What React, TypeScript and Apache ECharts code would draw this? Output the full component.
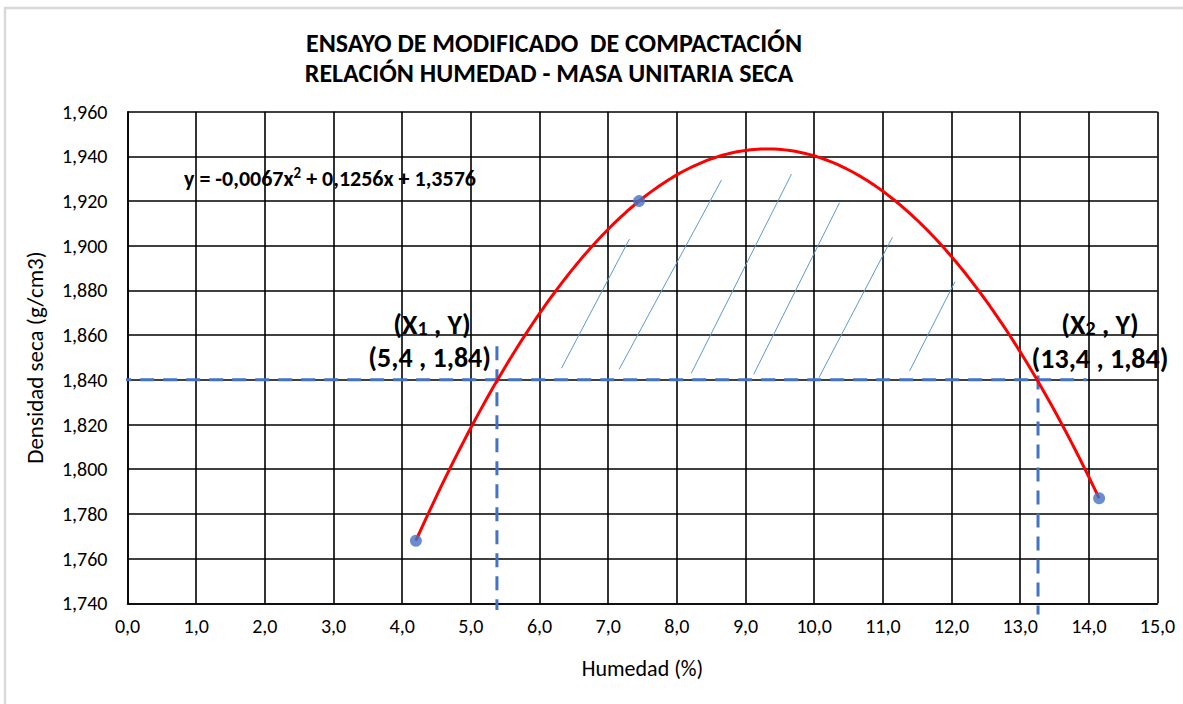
import React, { useEffect, useRef } from "react";
import * as echarts from "echarts";

// ---- Data ----
const humedad = [4.2, 7.45, 14.15];
const densidad = [1.768, 1.92, 1.787];

const titleLines = [
  "ENSAYO DE MODIFICADO  DE COMPACTACIÓN",
  "RELACIÓN HUMEDAD - MASA UNITARIA SECA",
];
const equationParts = ["y = -0,0067x", "2", " + 0,1256x + 1,3576"];
const xAxisName = "Humedad (%)";
const yAxisName = "Densidad seca (g/cm3)";

const refY = 1.84;
const refX1 = 5.38;
const refX2 = 13.26;
const hRefLine = [
  [-0.15, refY],
  [13.97, refY],
];
const vRefLine1 = [
  [refX1, 1.855],
  [refX1, 1.737],
];
const vRefLine2 = [
  [refX2, 1.842],
  [refX2, 1.735],
];

const hatchLines = [
  [[6.32, 1.8452], [7.31, 1.903]],
  [[7.16, 1.8447], [8.65, 1.9294]],
  [[8.21, 1.8429], [9.67, 1.9321]],
  [[9.12, 1.8425], [10.37, 1.9193]],
  [[10.07, 1.841], [11.14, 1.9038]],
  [[11.39, 1.844], [12.05, 1.8839]],
];

const FONT = "Carlito, Lato, 'Noto Sans', sans-serif";

// quadratic least-squares trendline (Excel polynomial, order 2)
function fitQuadratic(xs: number[], ys: number[]) {
  const n = xs.length;
  let s0 = n, s1 = 0, s2 = 0, s3 = 0, s4 = 0, t0 = 0, t1 = 0, t2 = 0;
  for (let i = 0; i < n; i++) {
    const x = xs[i], y = ys[i];
    s1 += x; s2 += x * x; s3 += x * x * x; s4 += x * x * x * x;
    t0 += y; t1 += x * y; t2 += x * x * y;
  }
  const M = [
    [s4, s3, s2, t2],
    [s3, s2, s1, t1],
    [s2, s1, s0, t0],
  ];
  for (let i = 0; i < 3; i++) {
    let p = i;
    for (let r = i + 1; r < 3; r++) if (Math.abs(M[r][i]) > Math.abs(M[p][i])) p = r;
    [M[i], M[p]] = [M[p], M[i]];
    for (let r = 0; r < 3; r++) {
      if (r === i) continue;
      const f = M[r][i] / M[i][i];
      for (let c = i; c < 4; c++) M[r][c] -= f * M[i][c];
    }
  }
  return [M[0][3] / M[0][0], M[1][3] / M[1][1], M[2][3] / M[2][2]];
}

export default function App() {
  const ref = useRef<HTMLDivElement>(null);

  useEffect(() => {
    if (!ref.current) return;
    const chart = echarts.init(ref.current, undefined, { renderer: "svg" });

    const [a, b, c] = fitQuadratic(humedad, densidad);
    const xMin = Math.min(...humedad);
    const xMax = Math.max(...humedad);
    const trend: number[][] = [];
    const steps = 200;
    for (let i = 0; i <= steps; i++) {
      const x = xMin + ((xMax - xMin) * i) / steps;
      trend.push([x, a * x * x + b * x + c]);
    }

    const dashStyle = { color: "#4472C4", width: 3, type: [14, 9] as any };

    const hatchSeries = hatchLines.map((seg) => ({
      type: "line",
      data: seg,
      symbol: "none",
      silent: true,
      lineStyle: { color: "#5B9BD5", width: 1 },
      z: 3,
    }));

    const labelBold = { fontFamily: FONT, fontWeight: "bold", fill: "#000" };
    const richXY = {
      a: { fontFamily: FONT, fontWeight: "bold", fontSize: 28, color: "#000", lineHeight: 30, verticalAlign: "bottom" },
      s: { fontFamily: FONT, fontWeight: "bold", fontSize: 20, color: "#000", lineHeight: 30, verticalAlign: "bottom" },
    };
    const richEq = {
      e: { fontFamily: FONT, fontWeight: "bold", fontSize: 22, color: "#000", lineHeight: 24, verticalAlign: "bottom" },
      sup: { fontFamily: FONT, fontWeight: "bold", fontSize: 15, color: "#000", lineHeight: 14, verticalAlign: "top" },
    };

    chart.setOption({
      animation: false,
      backgroundColor: "#ffffff",
      grid: { left: 127.5, top: 111.7, right: 25.5, bottom: 100.7, containLabel: false },
      xAxis: {
        type: "value",
        min: 0,
        max: 15,
        interval: 1,
        name: xAxisName,
        nameLocation: "middle",
        nameGap: 54,
        nameTextStyle: { fontFamily: FONT, fontSize: 22, color: "#000" },
        axisLine: { show: true, onZero: false, lineStyle: { color: "#000", width: 1.6 } },
        axisTick: { show: false },
        axisLabel: {
          margin: 13,
          fontFamily: FONT,
          fontSize: 20,
          color: "#000",
          formatter: (v: number) => v.toFixed(1).replace(".", ","),
        },
        splitLine: { show: true, lineStyle: { color: "#000", width: 1.6 } },
      },
      yAxis: {
        type: "value",
        min: 1.74,
        max: 1.96,
        interval: 0.02,
        name: yAxisName,
        nameLocation: "middle",
        nameRotate: 90,
        nameGap: 81,
        nameTextStyle: { fontFamily: FONT, fontSize: 23, color: "#000" },
        axisLine: { show: true, onZero: false, lineStyle: { color: "#000", width: 1.6 } },
        axisTick: { show: false },
        axisLabel: {
          margin: 20,
          fontFamily: FONT,
          fontSize: 20,
          color: "#000",
          formatter: (v: number) => v.toFixed(3).replace(".", ","),
        },
        splitLine: { show: true, lineStyle: { color: "#000", width: 1.6 } },
      },
      graphic: [
        {
          type: "rect",
          shape: { x: 5, y: 8, width: 1190, height: 710 },
          style: { fill: "none", stroke: "#d9d9d9", lineWidth: 2.5 },
          silent: true,
          z: -10,
        },
        {
          type: "text",
          x: 554,
          y: 43,
          style: { ...labelBold, text: titleLines[0], fontSize: 26, textAlign: "center", textVerticalAlign: "middle" },
        },
        {
          type: "text",
          x: 549,
          y: 73,
          style: { ...labelBold, text: titleLines[1], fontSize: 26, textAlign: "center", textVerticalAlign: "middle" },
        },
        {
          type: "text",
          x: 184,
          y: 177,
          style: {
            text: `{e|${equationParts[0]}}{sup|${equationParts[1]}}{e|${equationParts[2]}}`,
            textAlign: "left",
            textVerticalAlign: "middle",
            rich: richEq,
          },
        },
        {
          type: "text",
          x: 432,
          y: 323,
          style: { text: "{a|(X}{s|1}{a| , Y)}", textAlign: "center", textVerticalAlign: "middle", rich: richXY },
        },
        {
          type: "text",
          x: 491,
          y: 357,
          style: { ...labelBold, text: "(5,4 , 1,84)", fontSize: 28, textAlign: "right", textVerticalAlign: "middle" },
        },
        {
          type: "text",
          x: 1100,
          y: 323,
          style: { text: "{a|(X}{s|2}{a| , Y)}", textAlign: "center", textVerticalAlign: "middle", rich: richXY },
        },
        {
          type: "text",
          x: 1100,
          y: 358,
          style: { ...labelBold, text: "(13,4 , 1,84)", fontSize: 28, textAlign: "center", textVerticalAlign: "middle" },
        },
      ],
      series: [
        ...hatchSeries,
        {
          type: "line",
          name: "ref-h",
          data: hRefLine,
          symbol: "none",
          clip: false,
          silent: true,
          lineStyle: dashStyle,
          z: 4,
        },
        {
          type: "line",
          name: "ref-v1",
          data: vRefLine1,
          symbol: "none",
          clip: false,
          silent: true,
          lineStyle: dashStyle,
          z: 4,
        },
        {
          type: "line",
          name: "ref-v2",
          data: vRefLine2,
          symbol: "none",
          clip: false,
          silent: true,
          lineStyle: dashStyle,
          z: 4,
        },
        {
          type: "line",
          name: "trend",
          data: trend,
          symbol: "none",
          smooth: false,
          silent: true,
          lineStyle: { color: "#FF0000", width: 3 },
          z: 5,
        },
        {
          type: "scatter",
          name: "Densidad",
          data: humedad.map((x, i) => [x, densidad[i]]),
          symbol: "circle",
          symbolSize: 12,
          itemStyle: { color: "#4472C4" },
          z: 6,
        },
      ],
    });

    return () => chart.dispose();
  }, []);

  return (
    <div
      ref={ref}
      style={{ position: "fixed", left: 0, top: 0, width: 1183, height: 704, background: "#fff" }}
    />
  );
}
